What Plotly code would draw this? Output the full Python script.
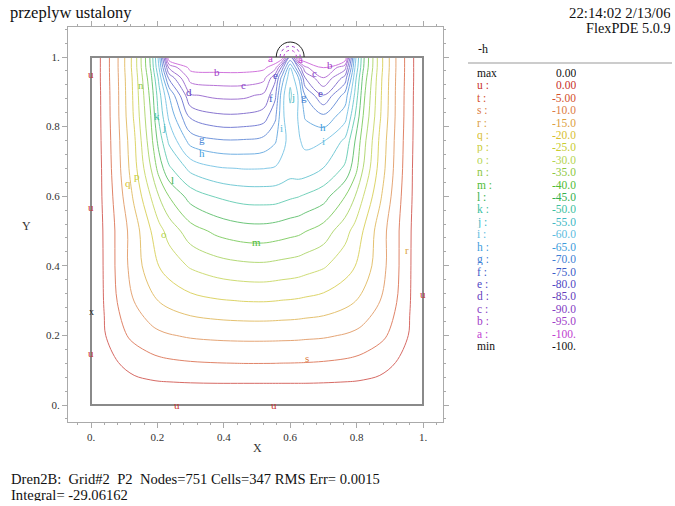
import plotly.graph_objects as go

# ---------------- data ----------------
x_nodes = [0, 0.04, 0.08, 0.13, 0.18, 0.205, 0.235, 0.3, 0.38, 0.46, 0.52, 0.555,
           0.575, 0.6, 0.625, 0.645, 0.7, 0.765, 0.795, 0.82, 0.87, 0.92, 0.96, 1.0]
y_nodes = [0, 0.06, 0.12, 0.2, 0.3, 0.4, 0.5, 0.6, 0.68, 0.76, 0.83, 0.89, 0.94, 0.97, 1.0]

h_y000 = [0, 0, 0, 0, 0, 0, 0, 0, 0, 0, 0, 0, 0, 0, 0, 0, 0, 0, 0, 0, 0, 0, 0, 0]
h_y006 = [0, -1.6, -2.8, -3.7, -4.2, -4.4, -4.5, -4.7, -4.8, -4.8, -4.8, -4.8,
          -4.8, -4.8, -4.8, -4.8, -4.7, -4.5, -4.4, -4.2, -3.7, -2.8, -1.6, 0]
h_y012 = [0, -2.6, -4.8, -6.8, -8.2, -8.7, -9.1, -9.6, -9.9, -10.05, -10.05, -10.02,
          -9.97, -9.95, -9.9, -9.85, -9.6, -9.1, -8.7, -8.2, -6.8, -4.8, -2.6, 0]
h_y020 = [0, -4.6, -8.3, -11.3, -13.3, -14.1, -14.7, -15.6, -16.1, -16.3, -16.3, -16.25,
          -16.2, -16.15, -16.05, -15.9, -15.6, -14.7, -14.1, -13.3, -11.3, -8.3, -4.6, 0]
h_y030 = [0, -5.3, -10.2, -15.1, -18.8, -20.2, -21.5, -23.4, -24.6, -25.2, -25.3, -25.1,
          -24.9, -24.75, -24.5, -24.2, -23.4, -21.5, -20.2, -18.8, -15.1, -10.2, -5.3, 0]
h_y040 = [0, -5.5, -11.1, -17.4, -22.8, -25.1, -27.2, -30.6, -32.8, -33.9, -34.1, -33.7,
          -33.4, -33.1, -32.7, -32.1, -30.6, -27.2, -25.1, -22.8, -17.4, -11.1, -5.5, 0]
h_y050 = [0, -5.6, -11.1, -17.6, -24.9, -28.3, -31.8, -37.8, -41.2, -42.9, -43.1, -42.6,
          -42.2, -41.6, -41.1, -40.2, -37.8, -31.8, -28.3, -24.9, -17.6, -11.1, -5.6, 0]
h_y060 = [0, -6.1, -12.2, -20.9, -30.1, -35.1, -40.1, -47.1, -50.5, -52.1, -52.3, -52.2,
          -51.6, -50.8, -50.2, -49.4, -47.1, -40.1, -35.1, -30.1, -20.9, -12.2, -6.1, 0]
h_y068 = [0, -6.3, -13.2, -23.1, -34.9, -42.1, -49.1, -56.5, -59.5, -60.2, -60.1, -59.6,
          -58.8, -57.5, -58.1, -57.8, -54.9, -49.1, -42.1, -34.9, -23.1, -13.2, -6.3, 0]
h_y076 = [0, -6.6, -13.6, -24.1, -38.1, -47.1, -56.1, -67.1, -69.5, -69.6, -68.5, -65.6,
          -61.5, -58.5, -59.5, -61.1, -60.3, -54.1, -45.1, -37.1, -24.1, -13.6, -6.6, 0]
h_y083 = [0, -6.8, -14.1, -25.6, -39.9, -51.1, -61.1, -76.1, -79.1, -79.1, -77.6, -71.1,
          -61.2, -56.5, -60.4, -65.6, -69.1, -62.1, -50.1, -39.9, -25.6, -14.1, -6.8, 0]
h_y089 = [0, -6.9, -14.2, -26.1, -41.5, -53.1, -65.1, -84.5, -86.1, -86.1, -84.1, -76.1,
          -62.1, -54.1, -60.5, -70.1, -79.9, -68.1, -54.1, -41.5, -26.1, -14.2, -6.9, 0]
h_y094 = [0, -7.1, -14.4, -26.5, -43.5, -56.5, -76.1, -92.1, -93.1, -93.1, -91.5, -81.1,
          -68.1, -56.1, -64.9, -79.9, -89.9, -78.1, -57.1, -43.5, -26.5, -14.4, -7.1, 0]
h_y097 = [0, -7.1, -14.6, -27.1, -45.5, -60.1, -86.1, -96.5, -96.7, -96.7, -96.1, -92.1,
          -78.1, -60.1, -76.1, -89.1, -95.1, -87.1, -60.1, -45.5, -27.1, -14.6, -7.1, 0]
h_y100 = [0, -7.1, -14.6, -27.1, -46.1, -62.1, -100, -100, -100, -100, -100, -100,
          -100, -75.1, -100, -100, -100, -100, -62.1, -46.1, -27.1, -14.6, -7.1, 0]

h_grid = [h_y000, h_y006, h_y012, h_y020, h_y030, h_y040, h_y050, h_y060, h_y068,
          h_y076, h_y083, h_y089, h_y094, h_y097, h_y100]

level_letters = ["u", "t", "s", "r", "q", "p", "o", "n", "m", "l", "k",
                 "j", "i", "h", "g", "f", "e", "d", "c", "b", "a"]
level_values = [0, -5, -10, -15, -20, -25, -30, -35, -40, -45, -50,
                -55, -60, -65, -70, -75, -80, -85, -90, -95, -100]
level_texts = ["0.00", "-5.00", "-10.0", "-15.0", "-20.0", "-25.0", "-30.0", "-35.0",
               "-40.0", "-45.0", "-50.0", "-55.0", "-60.0", "-65.0", "-70.0", "-75.0",
               "-80.0", "-85.0", "-90.0", "-95.0", "-100."]
level_colors = ["#c8322a", "#d4502c", "#dc7c44", "#dca040", "#d8c030", "#c8cc30",
                "#b4d450", "#8cc840", "#50bc34", "#34b04c", "#3cc0a0", "#40b8c4",
                "#5cbce0", "#3c9cdc", "#4080d4", "#3c5cc8", "#5048c4", "#6440bc",
                "#8440c4", "#a040c8", "#c040d0"]

# contour letter labels on the map: (letter, x, y)
map_labels = [("b", 0.38, 0.957), ("c", 0.46, 0.92), ("d", 0.295, 0.90), ("g", 0.335, 0.764),
              ("h", 0.335, 0.724), ("k", 0.20, 0.83), ("j", 0.22, 0.80), ("n", 0.15, 0.92),
              ("q", 0.111, 0.638), ("p", 0.139, 0.658), ("l", 0.244, 0.647), ("o", 0.22, 0.491),
              ("m", 0.497, 0.468), ("s", 0.65, 0.135), ("r", 0.952, 0.445), ("a", 0.542, 0.997),
              ("a", 0.63, 0.995), ("b", 0.72, 0.977), ("c", 0.672, 0.954), ("e", 0.69, 0.897),
              ("f", 0.542, 0.882), ("g", 0.642, 0.885), ("j", 0.608, 0.885), ("i", 0.575, 0.796),
              ("h", 0.70, 0.80), ("i", 0.70, 0.76), ("e", 0.557, 0.948)]
boundary_marks = [("u", 0.0, 0.95), ("u", 0.0, 0.57), ("u", 0.0, 0.15), ("u", 0.26, 0.0),
                  ("u", 0.55, 0.0), ("u", 1.0, 0.32)]
max_mark = ("x", 0.0, 0.27)

tick_vals = [0, 0.2, 0.4, 0.6, 0.8, 1.0]
tick_text = ["0.", "0.2", "0.4", "0.6", "0.8", "1."]

# ---------------- layout geometry ----------------
W, H = 675, 506
SERIF = "Liberation Serif, Times New Roman, serif"


def px(xp):
    return xp / W


def py(yp):
    return 1 - yp / H


colorscale = []
for v, c in zip(level_values, level_colors):
    colorscale.append([(v + 100) / 100.0, c])
colorscale.sort(key=lambda t: t[0])

fig = go.Figure()
fig.add_trace(go.Contour(
    x=x_nodes, y=y_nodes, z=h_grid, zmin=-100, zmax=0, colorscale=colorscale,
    autocontour=False, contours=dict(start=-95, end=-5, size=5, coloring="lines"),
    line=dict(width=1, smoothing=1.0), opacity=0.72, showscale=False, hoverinfo="skip"))

ann = []
for letter, x, y in map_labels:
    col = level_colors[level_letters.index(letter)]
    ann.append(dict(x=x, y=y, xref="x", yref="y", text=letter, showarrow=False, borderpad=0,
                    font=dict(family=SERIF, size=11, color=col)))
for letter, x, y in boundary_marks:
    ann.append(dict(x=x, y=y, xref="x", yref="y", text=letter, showarrow=False, borderpad=0,
                    font=dict(family=SERIF, size=11, color=level_colors[0])))
ann.append(dict(x=max_mark[1], y=max_mark[2], xref="x", yref="y", text=max_mark[0],
                showarrow=False, borderpad=0, font=dict(family=SERIF, size=10, color="#222")))

# titles
ann.append(dict(x=px(8), y=py(13), xref="paper", yref="paper", xanchor="left", yanchor="middle",
                text="przeplyw ustalony", showarrow=False, font=dict(family=SERIF, size=16.5, color="#111")))
ann.append(dict(x=px(672), y=py(13), xref="paper", yref="paper", xanchor="right", yanchor="middle",
                text="22:14:02 2/13/06", showarrow=False, borderpad=0, height=13,
                font=dict(family=SERIF, size=14.8, color="#111")))
ann.append(dict(x=px(672), y=py(27), xref="paper", yref="paper", xanchor="right", yanchor="middle",
                text="FlexPDE 5.0.9", showarrow=False, borderpad=0, height=13,
                font=dict(family=SERIF, size=14.3, color="#111")))
ann.append(dict(x=px(257), y=py(457), xref="paper", yref="paper", text="X", showarrow=False,
                font=dict(family=SERIF, size=12, color="#333")))
ann.append(dict(x=px(20), y=py(226), xref="paper", yref="paper", text="Y", showarrow=False,
                font=dict(family=SERIF, size=12, color="#333")))
ann.append(dict(x=px(10), y=py(478.5), xref="paper", yref="paper", xanchor="left", yanchor="middle",
                text="Dren2B:  Grid#2  P2  Nodes=751 Cells=347 RMS Err= 0.0015", showarrow=False,
                borderpad=0, height=13, font=dict(family=SERIF, size=14.6, color="#111")))
ann.append(dict(x=px(10), y=py(494.8), xref="paper", yref="paper", xanchor="left", yanchor="middle",
                text="Integral= -29.06162", showarrow=False, borderpad=0, height=13,
                font=dict(family=SERIF, size=14.6, color="#111")))

# legend panel
ann.append(dict(x=px(476), y=py(49), xref="paper", yref="paper", xanchor="left", yanchor="middle",
                text="-h", showarrow=False, font=dict(family=SERIF, size=12, color="#111")))
rows = [("max", "0.00", "#111")]
for letter, txt, col in zip(level_letters, level_texts, level_colors):
    rows.append((letter + " :", txt, col))
rows.append(("min", "-100.", "#111"))
step = (346 - 73) / (len(rows) - 1)
for i, (lab, val, col) in enumerate(rows):
    yy = 73 + i * step
    ann.append(dict(x=px(476), y=py(yy), xref="paper", yref="paper", xanchor="left", yanchor="middle",
                    text=lab, showarrow=False, borderpad=0, height=12,
                    font=dict(family=SERIF, size=11.5, color=col)))
    ann.append(dict(x=px(577), y=py(yy), xref="paper", yref="paper", xanchor="right", yanchor="middle",
                    text=val, showarrow=False, borderpad=0, height=12,
                    font=dict(family=SERIF, size=11.5, color=col)))

# domain outline and drain
cx, rx, ry = 0.6, 0.042, 0.043
k = 0.5523


def semi(sx, sy):
    return (f"M {cx - sx},1 C {cx - sx},{1 + k * sy} {cx - k * sx},{1 + sy} {cx},{1 + sy} "
            f"C {cx + k * sx},{1 + sy} {cx + sx},{1 + k * sy} {cx + sx},1")


shapes = [
    dict(type="rect", xref="x", yref="y", x0=0, y0=0, x1=1, y1=1,
         line=dict(color="#8a8a8a", width=2)),
    dict(type="path", xref="x", yref="y", path=semi(rx, ry), line=dict(color="#222", width=1)),
    dict(type="path", xref="x", yref="y", path=semi(rx * 0.72, ry * 0.72),
         line=dict(color="#a040c8", width=1, dash="dot")),
    dict(type="path", xref="x", yref="y", path=semi(rx * 0.45, ry * 0.45),
         line=dict(color="#c040d0", width=1, dash="dot")),
    dict(type="line", xref="paper", yref="paper", x0=px(468), x1=px(672), y0=py(63), y1=py(63),
         line=dict(color="#999", width=1)),
]

axis_common = dict(showgrid=False, zeroline=False, showline=True, linecolor="#aaaaaa", linewidth=1,
                   mirror="ticks", ticks="outside", ticklen=5, tickcolor="#aaaaaa",
                   tickvals=tick_vals, ticktext=tick_text,
                   tickfont=dict(family=SERIF, size=11, color="#333"),
                   minor=dict(dtick=0.04, tick0=0, ticks="outside", ticklen=2, tickcolor="#aaaaaa"))

fig.update_layout(
    width=W, height=H, margin=dict(l=0, r=0, t=0, b=0), paper_bgcolor="white", plot_bgcolor="white",
    showlegend=False, annotations=ann, shapes=shapes,
    xaxis=dict(domain=[68 / W, 443 / W], range=[-0.06928, 1.06024], **axis_common),
    yaxis=dict(domain=[(506 - 422) / H, (506 - 27) / H], range=[-0.04885, 1.08621], **axis_common),
)

fig.write_html("out.html")
